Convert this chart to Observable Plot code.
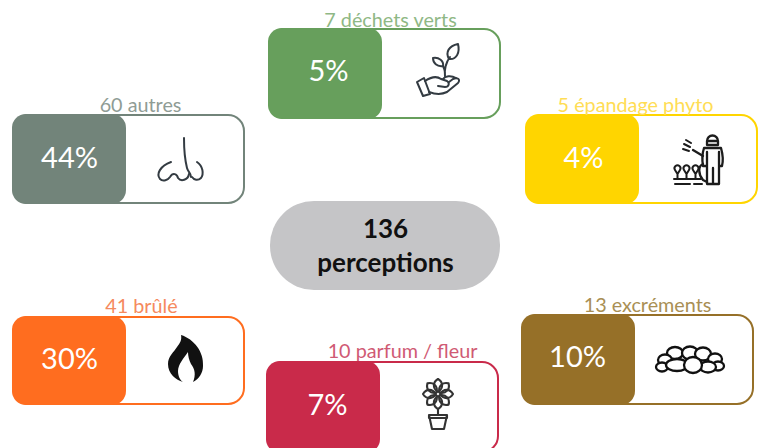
<!DOCTYPE html>
<html><head><meta charset="utf-8">
<style>html,body{margin:0;padding:0;background:#fff;overflow:hidden}svg{display:block}</style>
<script src="https://cdn.jsdelivr.net/npm/d3@7"></script>
<script src="https://cdn.jsdelivr.net/npm/@observablehq/plot@0.6"></script>
</head><body><div id="chart"></div>
<script>
// Data
const categories = ["déchets verts", "autres", "épandage phyto", "brûlé", "parfum / fleur", "excréments"];
const counts = [7, 60, 5, 41, 10, 13];
const percents = [5, 44, 4, 30, 7, 10];
const total = 136;
const totalWord = "perceptions";

// Layout and styles, kept apart from the data
const cardLeft = [268, 12, 525, 12, 266, 521];
const cardTop = [28, 114, 114, 316, 361, 314];
const cardHeight = [91, 90, 90, 89, 92, 91];
const cardWidth = 233, panelWidth = 114;
const pctX = [328, 69, 583, 69, 327, 577];
const pctY = [71, 158, 158, 359, 405, 357];
const labelX = [390, 140, 635, 141, 402, 647];
const labelY = [20, 105, 105, 306, 351, 305];
const fills = ["#679f5c", "#72847a", "#ffd500", "#ff6d1f", "#c92a4a", "#967028"];
const labelFills = ["#8fb885", "#8f9c95", "#ffdd55", "#f58a5e", "#d05a74", "#a98f55"];
const iconX = [437, 180, 698, 186, 438, 690];
const iconY = [70, 160, 160, 358, 405, 360];

const rows = categories.map((c, i) => ({
  label: `${counts[i]} ${c}`, pct: `${percents[i]}%`, fill: fills[i], labelFill: labelFills[i],
  x1: cardLeft[i], x2: cardLeft[i] + cardWidth, px2: cardLeft[i] + panelWidth,
  y1: cardTop[i], y2: cardTop[i] + cardHeight[i],
  pctX: pctX[i], pctY: pctY[i], labelX: labelX[i], labelY: labelY[i]
}));

const font = "Lato, Carlito, sans-serif";

// Pictograms, one drawing function per category
const line = (g, d, color = "#333b42", w = 2) =>
  g.append("path").attr("d", d).attr("fill", "none").attr("stroke", color)
   .attr("stroke-width", w).attr("stroke-linecap", "round").attr("stroke-linejoin", "round");
const icons = [
  g => { // plant in a hand
    line(g, "M-20,12 L-13,8 L-7,24 L-14,26Z");
    line(g, "M-12,11 C-6,7 0,6 4,9 L10,11 C13,13 12,17 8,17 L1,16");
    line(g, "M-8,22 C0,25 6,24 10,22 L21,13 C24,9 20,7 16,9 L12,12");
    line(g, "M6,9 C8,6 14,5 19,8");
    line(g, "M8,6 C7,0 9,-8 13,-13 M8,3 C8,0 7,-2 6,-4");
    line(g, "M12,-11 C8,-18 12,-24 21,-26 C23,-18 20,-10 12,-11Z");
    line(g, "M6,-4 C0,-3 -4,-7 -4,-12 C2,-13 7,-9 6,-4Z");
  },
  g => { // nose
    line(g, "M4,-22 C4,-10 5,0 7,8 C8,12 11,13 11,17");
    line(g, "M17,2 C23,6 24,14 21,18 C18,21 14,20 12,17");
    line(g, "M-9,2 C-20,6 -24,14 -20,19 C-17,22 -12,20 -10,17 C-7,12 -3,14 -2,18 C1,22 8,20 9,14");
  },
  g => { // person spraying crops
    const k = "#1c1c1c";
    line(g, "M9,-19 a5.5,5.5 0 1 1 11,0 L20,-15 L9,-15Z M9,-19 L20,-19", k, 2.3);
    line(g, "M6,-12 L23,-12 C25,-5 25,2 24,6 L21,6 L21,24 L9,24 L9,6 L5,6 C4,0 4,-6 6,-12Z M15,8 L15,24 M9,-8 L9,6 M21,-8 L21,6", k, 2.3);
    line(g, "M5,-4 L-5,-10 M5,4 C0,6 0,14 5,20 L9,22", k, 2.3);
    line(g, "M-8,-13 L-14,-16 M-9,-9 L-15,-11 M-7,-17 L-12,-20", k, 2);
    line(g, "M-23,10 a3,3 0 1 1 5,0 L-20.5,14 Z M-20.5,14 L-20.5,19 M-14,10 a3,3 0 1 1 5,0 L-11.5,14 Z M-11.5,14 L-11.5,19 M-5,10 a3,3 0 1 1 5,0 L-2.5,14 Z M-2.5,14 L-2.5,19", k, 2);
    line(g, "M-24,19 L3,19 M-23,24 L-8,24 M-4,24 L4,24", k, 2);
  },
  g => { // flame
    g.append("path").attr("fill", "#111").attr("d", "M-5,-23 C8,-19 18,-6 17,8 C17,15 13,21 7,24 C10,17 9,11 5,6 C3,2 2,-2 2,-6 C-2,0 -8,6 -8,13 C-8,18 -6,22 -3,24 C-10,22 -18,16 -18,6 C-18,-2 -12,-6 -9,-11 C-6,-15 -4,-18 -5,-23Z");
  },
  g => { // potted flower
    for (let a = 0; a < 360; a += 45)
      line(g, "M0,-2 C-6,-6 -5,-12 0,-15 C5,-12 6,-6 0,-2Z", "#333", 2.1).attr("transform", `translate(0,-11) rotate(${a})`);
    line(g, "M0,4 L0,10", "#333", 2.1);
    line(g, "M-9,10 L9,10 L6,24 L-6,24Z M-9,10 L-9,13 L9,13 L9,10", "#333", 2.1);
  },
  g => { // pile of droppings
    const stones = [[-15,-7,8,6],[0,-7,8,6.5],[13,-6,8,6.5],[25,-1,7,5.5],[-25,0,7,5.5],[-28,7,6,4.5],[-13,5,11,6],[28,6,6,4.5],[18,7,8,5.5],[3,5,9,8]];
    stones.forEach(([cx, cy, rx, ry]) => g.append("ellipse").attr("cx", cx).attr("cy", cy).attr("rx", rx).attr("ry", ry)
      .attr("fill", "#fff").attr("stroke", "#111").attr("stroke-width", 2.3));
  }
];

const iconMark = (index, scales) => {
  const root = d3.create("svg:g");
  icons.forEach((draw, i) => {
    const g = root.append("g").attr("transform", `translate(${scales.x(iconX[i])},${scales.y(iconY[i])})`);
    draw(g);
  });
  return root.node();
};

const plot = Plot.plot({
  width: 760, height: 448, margin: 0,
  x: {domain: [0, 760], range: [0, 760], axis: null},
  y: {domain: [0, 448], range: [0, 448], axis: null},
  style: {background: "#fff", fontFamily: font},
  marks: [
    Plot.rect(rows, {x1: "x1", x2: "x2", y1: "y1", y2: "y2", inset: 1, fill: "#fff", stroke: "fill", strokeWidth: 2, rx: 16}),
    Plot.rect(rows, {x1: "x1", x2: "px2", y1: "y1", y2: "y2", fill: "fill", rx: 14}),
    Plot.text(rows, {x: "pctX", y: "pctY", text: "pct", fill: "#fff", fontSize: 29, textAnchor: "middle", lineAnchor: "middle", fontFamily: font}),
    Plot.text(rows, {x: "labelX", y: "labelY", text: "label", fill: "labelFill", fontSize: 19.8, textAnchor: "middle", lineAnchor: "middle", fontFamily: font}),
    Plot.rect([total], {x1: () => 270, x2: () => 500, y1: () => 201, y2: () => 290, fill: "#c5c5c7", rx: 44}),
    Plot.text([String(total)], {x: () => 385, y: () => 229, text: d => d, fill: "#111", fontSize: 26, fontWeight: 700, textAnchor: "middle", lineAnchor: "middle", fontFamily: font}),
    Plot.text([totalWord], {x: () => 385, y: () => 263, text: d => d, fill: "#111", fontSize: 26, fontWeight: 700, textAnchor: "middle", lineAnchor: "middle", fontFamily: font}),
    iconMark
  ]
});
document.getElementById("chart").append(plot);
</script></body></html>
